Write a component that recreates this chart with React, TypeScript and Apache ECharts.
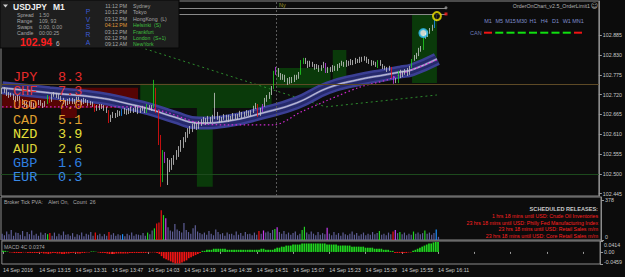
import React, { useEffect, useRef } from 'react';
import * as echarts from 'echarts';

// ---------------- data ----------------
const SYMBOL = 'USDJPY';
const PERIOD = 'M1';
const INFO_LABELS = ['Spread', 'Range', 'Swaps', 'Candle'];
const INFO_VALUES = ['1.50', '109, 93', '0.00, 0.00', '00:00:25'];
const BID_MAIN = '102.94';
const BID_LAST = '6';
const PVSRA = ['P', 'V', 'S', 'R', 'A'];
const SESSION_TIMES = ['11:12 PM', '10:12 PM', '03:12 PM', '04:12 PM', '03:12 PM', '02:12 PM', '09:12 AM'];
const SESSION_CITIES = ['Sydney', 'Tokyo', 'HongKong  (L)', 'Helsinki  (S)', 'Frankfurt', 'London  (S+1)', 'NewYork'];
const SESSION_OPEN = [false, false, false, true, true, true, true];

const CURRENCIES = ['JPY', 'CHF', 'USD', 'CAD', 'NZD', 'AUD', 'GBP', 'EUR'];
const STRENGTH = [8.3, 7.3, 7.0, 5.1, 3.9, 2.6, 1.6, 0.3];

const TIMEFRAMES = ['M1', 'M5', 'M15', 'M30', 'H1', 'H4', 'D1', 'W1', 'MN1'];
const TF_UP = [false, true, true, true, true, true, true, true, false];

const RELEASES = [
  '1 hrs 18 mins until USD: Crude Oil Inventories',
  '23 hrs 18 mins until USD: Philly Fed Manufacturing Index',
  '23 hrs 18 mins until USD: Retail Sales m/m',
  '23 hrs 18 mins until USD: Core Retail Sales m/m',
];

const TICK_LABELS = ['14 Sep 2016', '14 Sep 13:15', '14 Sep 13:31', '14 Sep 13:47', '14 Sep 14:03', '14 Sep 14:19',
  '14 Sep 14:35', '14 Sep 14:51', '14 Sep 15:07', '14 Sep 15:23', '14 Sep 15:39', '14 Sep 15:55', '14 Sep 16:11'];
const PRICE_TICKS = [102.445, 102.5, 102.555, 102.61, 102.665, 102.72, 102.775, 102.83, 102.885];
const VOL_TICKS = [0, 378];
const MACD_TICKS = [-0.0459, 0, 0.0414];
const CURRENT_PRICE = 102.941;
const TICK_COUNT = 26;
const MACD_LAST = 0.0374;

const FIRST_OPEN = 102.733;
const CLOSE = [
  102.727, 102.733, 102.722, 102.716, 102.719, 102.711, 102.705, 102.714, 102.702, 102.697,
  102.694, 102.689, 102.697, 102.691, 102.686, 102.694, 102.700, 102.694, 102.689, 102.697,
  102.714, 102.702, 102.716, 102.722, 102.716, 102.711, 102.705, 102.700, 102.694, 102.702,
  102.697, 102.705, 102.700, 102.708, 102.702, 102.697, 102.705, 102.700, 102.694, 102.697,
  102.691, 102.677, 102.689, 102.683, 102.689, 102.680, 102.675, 102.647, 102.658, 102.666,
  102.661, 102.672, 102.664, 102.677, 102.669, 102.677, 102.672, 102.680, 102.675, 102.683,
  102.672, 102.677, 102.683, 102.672, 102.689, 102.680, 102.686, 102.733, 102.672, 102.594,
  102.494, 102.552, 102.539, 102.525, 102.516, 102.533, 102.544, 102.552, 102.566, 102.580,
  102.594, 102.608, 102.616, 102.622, 102.630, 102.636, 102.627, 102.639, 102.644, 102.650,
  102.641, 102.652, 102.647, 102.658, 102.666, 102.655, 102.647, 102.652, 102.661, 102.650,
  102.658, 102.652, 102.664, 102.655, 102.661, 102.669, 102.661, 102.666, 102.672, 102.664,
  102.672, 102.683, 102.691, 102.664, 102.677, 102.689, 102.705, 102.714, 102.722, 102.739,
  102.780, 102.789, 102.775, 102.766, 102.772, 102.761, 102.755, 102.764, 102.758, 102.769,
  102.766, 102.777, 102.808, 102.816, 102.811, 102.800, 102.808, 102.802, 102.794, 102.800,
  102.789, 102.797, 102.805, 102.783, 102.791, 102.786, 102.797, 102.789, 102.800, 102.802,
  102.808, 102.800, 102.811, 102.805, 102.814, 102.808, 102.816, 102.811, 102.819, 102.816,
  102.822, 102.811, 102.814, 102.805, 102.808, 102.800, 102.814, 102.802, 102.797, 102.794,
  102.789, 102.794, 102.769, 102.755, 102.761, 102.783, 102.772, 102.780, 102.789, 102.777,
  102.797, 102.816, 102.822, 102.830, 102.844, 102.847, 102.880, 102.883, 102.891, 102.900,
  102.908, 102.927, 102.941,
];
const HIGH = [
  102.739, 102.741, 102.736, 102.727, 102.725, 102.722, 102.716, 102.719, 102.716, 102.708,
  102.702, 102.700, 102.702, 102.700, 102.697, 102.700, 102.705, 102.705, 102.697, 102.702,
  102.719, 102.716, 102.722, 102.727, 102.725, 102.722, 102.716, 102.711, 102.705, 102.708,
  102.711, 102.711, 102.708, 102.714, 102.714, 102.708, 102.711, 102.708, 102.705, 102.702,
  102.700, 102.694, 102.691, 102.694, 102.694, 102.691, 102.686, 102.677, 102.664, 102.672,
  102.669, 102.677, 102.675, 102.680, 102.683, 102.680, 102.683, 102.686, 102.683, 102.689,
  102.686, 102.683, 102.689, 102.686, 102.694, 102.691, 102.691, 102.761, 102.739, 102.677,
  102.608, 102.566, 102.561, 102.544, 102.539, 102.544, 102.552, 102.566, 102.577, 102.594,
  102.602, 102.616, 102.627, 102.633, 102.639, 102.644, 102.641, 102.647, 102.652, 102.658,
  102.655, 102.661, 102.658, 102.664, 102.725, 102.672, 102.661, 102.658, 102.666, 102.664,
  102.664, 102.661, 102.669, 102.666, 102.666, 102.675, 102.672, 102.672, 102.677, 102.675,
  102.677, 102.689, 102.697, 102.694, 102.683, 102.694, 102.711, 102.719, 102.727, 102.744,
  102.786, 102.797, 102.794, 102.780, 102.777, 102.775, 102.766, 102.769, 102.769, 102.775,
  102.775, 102.783, 102.816, 102.822, 102.822, 102.814, 102.814, 102.811, 102.805, 102.805,
  102.802, 102.802, 102.811, 102.808, 102.797, 102.797, 102.802, 102.800, 102.805, 102.808,
  102.814, 102.811, 102.816, 102.814, 102.819, 102.816, 102.822, 102.819, 102.825, 102.825,
  102.827, 102.825, 102.819, 102.816, 102.814, 102.811, 102.816, 102.816, 102.805, 102.800,
  102.797, 102.800, 102.797, 102.772, 102.766, 102.786, 102.789, 102.786, 102.791, 102.794,
  102.800, 102.819, 102.830, 102.836, 102.850, 102.855, 102.886, 102.891, 102.897, 102.905,
  102.914, 102.933, 102.944,
];
const LOW = [
  102.722, 102.725, 102.716, 102.711, 102.714, 102.705, 102.700, 102.702, 102.697, 102.691,
  102.686, 102.683, 102.686, 102.686, 102.680, 102.683, 102.691, 102.689, 102.683, 102.686,
  102.694, 102.697, 102.700, 102.714, 102.711, 102.708, 102.700, 102.694, 102.689, 102.691,
  102.694, 102.694, 102.694, 102.697, 102.700, 102.691, 102.694, 102.697, 102.689, 102.691,
  102.686, 102.672, 102.675, 102.677, 102.680, 102.675, 102.669, 102.641, 102.644, 102.655,
  102.655, 102.658, 102.661, 102.661, 102.666, 102.664, 102.666, 102.669, 102.669, 102.672,
  102.666, 102.669, 102.675, 102.669, 102.669, 102.677, 102.675, 102.683, 102.669, 102.580,
  102.464, 102.477, 102.530, 102.469, 102.505, 102.511, 102.525, 102.539, 102.547, 102.561,
  102.572, 102.588, 102.600, 102.611, 102.616, 102.625, 102.622, 102.625, 102.633, 102.639,
  102.636, 102.639, 102.641, 102.644, 102.652, 102.650, 102.641, 102.644, 102.650, 102.647,
  102.644, 102.647, 102.650, 102.652, 102.650, 102.658, 102.655, 102.658, 102.661, 102.661,
  102.661, 102.669, 102.680, 102.658, 102.661, 102.672, 102.686, 102.700, 102.708, 102.719,
  102.736, 102.775, 102.769, 102.761, 102.761, 102.755, 102.747, 102.750, 102.752, 102.755,
  102.761, 102.764, 102.775, 102.805, 102.805, 102.794, 102.797, 102.797, 102.789, 102.791,
  102.783, 102.786, 102.794, 102.780, 102.780, 102.783, 102.783, 102.786, 102.786, 102.794,
  102.800, 102.797, 102.797, 102.800, 102.802, 102.802, 102.805, 102.808, 102.808, 102.811,
  102.814, 102.808, 102.805, 102.800, 102.802, 102.797, 102.794, 102.800, 102.791, 102.789,
  102.783, 102.786, 102.766, 102.750, 102.752, 102.752, 102.766, 102.769, 102.775, 102.772,
  102.775, 102.794, 102.814, 102.819, 102.827, 102.839, 102.844, 102.875, 102.880, 102.889,
  102.897, 102.905, 102.925,
];
const VOLUME = [
  60, 45, 80, 55, 95, 40, 70, 65, 50, 85,
  35, 75, 55, 90, 45, 60, 40, 70, 50, 65,
  55, 65,
  40, 70, 35, 60, 45, 80, 50, 55,
  40, 65, 30, 55, 45, 70, 35, 60, 50, 75, 40,
  70,
  45, 60, 35, 55, 40,
  75,
  50, 65, 40, 55, 45,
  55,
  35, 60, 45, 70, 40, 55, 50, 45, 65, 40,
  70,
  55, 90,
  110,
  155, 165, 280, 235, 205,
  120, 90, 80, 150, 100, 85, 70,
  160, 95, 75, 60, 110, 140, 80, 65, 55, 70,
  50, 85, 60, 45, 100, 75, 55, 65, 40, 70,
  55, 60, 45, 80, 50, 65, 40, 75, 55, 60, 45, 70, 50,
  85,
  60,
  90,
  70, 80, 65, 95,
  105, 120,
  75, 60, 85, 55, 70, 50, 65, 80, 45, 60,
  95, 125,
  70, 55, 80, 60, 45, 75, 50, 65, 55,
  115,
  60, 45, 75, 50, 65, 40, 70, 55, 45, 60, 80, 50, 65, 40, 55, 70, 45, 60, 50, 75, 55, 65,
  85,
  50, 60, 45, 70, 55,
  80, 95,
  65, 75,
  55, 70, 45, 60, 50,
  80,
  60, 70, 55, 65,
  90,
  60, 70, 50, 65,
  100,
  30,
];
const MACD = [
  0.004, 0.004, 0.002,
  -0.002, -0.002, -0.004, -0.004, -0.004, -0.004, -0.002, -0.002, -0.004, -0.004, -0.004, -0.004, -0.004, -0.004,
  -0.004, -0.006, -0.006, -0.008, -0.006, -0.004, -0.004, -0.006, -0.006, -0.008, -0.008, -0.006, -0.006, -0.004, -0.004, -0.004, -0.006, -0.006, -0.004, -0.004, -0.002, -0.002,
  0.002, 0.002, 0.001,
  -0.002, -0.004, -0.004, -0.004, -0.006, -0.008, -0.008, -0.008, -0.006, -0.006, -0.006, -0.006, -0.006, -0.006, -0.004, -0.004, -0.004, -0.004, -0.004, -0.004, -0.004, -0.004, -0.002, -0.002, -0.002, -0.002, -0.004,
  -0.008, -0.016, -0.024, -0.028, -0.032, -0.036, -0.040, -0.044, -0.044, -0.044, -0.040, -0.036, -0.032, -0.024, -0.020, -0.016, -0.012, -0.008, -0.004,
  0.004, 0.004, 0.008, 0.008, 0.008, 0.012, 0.012, 0.012, 0.012, 0.012, 0.012, 0.008, 0.008, 0.008,
  0.008, 0.008, 0.008, 0.008, 0.008, 0.008, 0.008, 0.008, 0.008, 0.008, 0.008, 0.008, 0.012, 0.012, 0.008, 0.008, 0.008, 0.008,
  0.012, 0.016, 0.016, 0.020, 0.020, 0.024, 0.024, 0.024, 0.028, 0.028, 0.028, 0.028, 0.032, 0.032, 0.032, 0.032, 0.032, 0.032, 0.032, 0.032, 0.032,
  0.032, 0.032, 0.028, 0.028, 0.028, 0.028, 0.028, 0.024, 0.024, 0.024, 0.024, 0.024, 0.024, 0.020, 0.020, 0.020, 0.020,
  0.020, 0.020, 0.016, 0.016, 0.016, 0.016, 0.012, 0.012, 0.012, 0.012, 0.008, 0.008, 0.008, 0.004, 0.004,
  -0.004, -0.004, -0.004, -0.004, -0.004, -0.004, -0.002, -0.002,
  0.004, 0.008, 0.012, 0.016, 0.020, 0.024, 0.028, 0.032, 0.032, 0.036, 0.038, 0.0374,
];
// PVA candle / volume classification by bar index
const PVA_CLASS: Record<number, string> = {
  20: 'green', 21: 'red', 41: 'red', 47: 'red', 53: 'blue', 64: 'green', 67: 'green', 68: 'red', 69: 'red',
  70: 'red', 71: 'green', 72: 'magenta', 113: 'red', 115: 'magenta', 120: 'green', 121: 'magenta', 132: 'green',
  133: 'green', 143: 'magenta', 166: 'green', 172: 'red', 173: 'magenta', 175: 'green', 181: 'green',
  186: 'green', 191: 'blue',
};
// indicator vertices: [bar, price]
const RIBBON = [[0, 102.739], [21, 102.725], [43, 102.711], [56, 102.694], [65, 102.680], [76, 102.658],
  [87, 102.641], [100, 102.647], [115, 102.669], [130, 102.697], [144, 102.739], [157, 102.761],
  [169, 102.775], [176, 102.783], [181, 102.789], [192, 102.819]];
const MAGENTA_MA = [[0, 102.686], [60, 102.686], [72, 102.672], [87, 102.641], [100, 102.636], [120, 102.636],
  [132, 102.672], [144, 102.705], [158, 102.741], [170, 102.761], [181, 102.789], [192, 102.816]];
const SLOW_MA = [[40, 102.894], [143, 102.686], [192, 102.719]];
// zones: [fromBar, toBar, top, bottom]
const SELL_ZONES = [[0, 60, 102.739, 102.683], [26, 33, 102.686, 102.655]];
const BUY_ZONES = [[61, 119, 102.750, 102.683], [86, 93, 102.683, 102.464], [121, 145, 102.794, 102.739],
  [146, 152, 102.844, 102.739], [181, 192, 102.941, 102.752]];
const LEVEL_BROWN = 102.750;
const LEVEL_GREEN = 102.500;
const ORDER_LEVELS = [102.961, 102.944];
const ORDER_END_BAR = 196;
const NY_BAR = 121;
const YELLOW_MARK = [192, 102.938];
const CYAN_MARK = [186, 102.891];
const RED_MARK = [196, 102.944];
const GRAY_MARK = [196, 102.961];
const N_SLOTS = 264;

// ---------------- styles ----------------
const FONT = '"Liberation Sans", Arial, sans-serif';
const MONO = '"Liberation Mono", "Courier New", monospace';
const PVA_COLORS: Record<string, string> = { green: '#22d322', red: '#f01010', magenta: '#c83cf0', blue: '#1e90ff' };
const VOL_DEFAULT = '#5e5e96';
const CUR_COLORS = ['#e52a2a', '#e03535', '#e3822a', '#e0a030', '#e6e03a', '#dcd23a', '#2f7fe0', '#3a8ae6'];

function buildGraphic() {
  const G: any[] = [];
  const T = (text: string, x: number, y: number, fill: string, size: number, o: any = {}) => {
    const align = o.align || 'left';
    G.push({
      type: 'text', x, y, z: 100, silent: true,
      style: {
        text, fill, font: `${o.bold ? 'bold ' : ''}${size}px ${o.family || FONT}`,
        textAlign: align, textVerticalAlign: 'middle', align, verticalAlign: 'middle',
      },
    });
  };
  G.push({ type: 'rect', z: 99, silent: true, shape: { x: 0, y: 0, width: 179, height: 48 },
    style: { fill: '#1e1e1e', stroke: '#060606', lineWidth: 1 } });
  G.push({ type: 'polygon', z: 100, silent: true, shape: { points: [[3, 4.5], [8, 4.5], [5.5, 7.5]] }, style: { fill: '#d0d0d0' } });
  T(SYMBOL, 13, 6.5, '#f0f0f0', 8.5, { bold: true });
  T(PERIOD, 53, 6.5, '#f0f0f0', 8.5, { bold: true });
  INFO_LABELS.forEach((l, i) => {
    T(l, 17, 15 + i * 6, '#a8a8a8', 5.2);
    T(INFO_VALUES[i], 39, 15 + i * 6, '#a0a0a0', 5.2);
  });
  T(BID_MAIN, 20, 42, '#ff1e1e', 10.5, { bold: true });
  T(BID_LAST, 56, 43.5, '#c0c0c0', 6.5);
  PVSRA.forEach((c, i) => T(c, 88, 11.7 + i * 7.6, '#3b5bd6', 6.8, { align: 'center' }));
  SESSION_TIMES.forEach((t, i) => {
    T(t, 127, 6 + i * 6.4, i === 3 ? '#e09a3a' : '#a8a8a8', 5.2, { align: 'right' });
    T(SESSION_CITIES[i], 133, 6 + i * 6.4, SESSION_OPEN[i] ? '#3fbf3f' : '#a8a8a8', 5.2);
  });
  T('Ny', 279, 5, '#9a9a28', 5.5);
  T('OrderOnChart_v2.5_OrderLimit1', 590, 6, '#b4b4b4', 5.3, { align: 'right' });
  T('\u263A', 594.5, 6, '#b4b4b4', 7, { align: 'center', family: '"DejaVu Sans", sans-serif' });
  TIMEFRAMES.forEach((tf, i) => {
    const cx = 488 + i * 11.25;
    T(tf, cx, 21, '#7f8ccc', 5.5, { align: 'center' });
    G.push({ type: 'rect', z: 100, silent: true, shape: { x: cx - 4, y: 31.7, width: 8, height: 2 },
      style: { fill: TF_UP[i] ? '#10e010' : '#f01414' } });
  });
  T('CAN', 470, 32.7, '#6a7ab8', 5.5);
  CURRENCIES.forEach((c, i) => {
    T(c, 13, 77 + i * 14.4, CUR_COLORS[i], 13.5, { family: MONO });
    T(STRENGTH[i].toFixed(1), 58, 77 + i * 14.4, CUR_COLORS[i], 13.5, { family: MONO });
  });
  T(`Broker Tick PVA:    Alert On,   Count  ${TICK_COUNT}`, 4, 202, '#a8a8a8', 5.2);
  T(`MACD 4C ${MACD_LAST.toFixed(4)}`, 4, 247, '#a8a8a8', 5.2);
  T('SCHEDULED RELEASES:', 598, 209, '#c8c8c8', 5.6, { align: 'right', bold: true });
  RELEASES.forEach((r, i) => T(r, 598, 216 + i * 6.6, '#ff2020', 5.2, { align: 'right' }));
  return G;
}

function buildOption() {
  const cats = Array.from({ length: N_SLOTS }, (_, i) => String(i));
  const candles = CLOSE.map((c, i) => {
    const o = i === 0 ? FIRST_OPEN : CLOSE[i - 1];
    const item: any = { value: [o, c, LOW[i], HIGH[i]] };
    const cls = PVA_CLASS[i];
    if (cls) {
      const col = PVA_COLORS[cls];
      item.itemStyle = { color: col, color0: col, borderColor: col, borderColor0: col };
    }
    return item;
  });
  const vols = VOLUME.map((v, i) => ({ value: v, itemStyle: { color: PVA_CLASS[i] ? PVA_COLORS[PVA_CLASS[i]] : VOL_DEFAULT } }));
  const macd = MACD.map((v) => ({ value: v, itemStyle: { color: v >= 0 ? '#1fd61f' : '#f01414' } }));

  const axisText = { color: '#c8c8c8', fontSize: 5.3, fontFamily: FONT };
  const xBase = (gridIndex: number) => ({
    type: 'category', gridIndex, data: cats, boundaryGap: true,
    axisLine: { show: false }, axisTick: { show: false }, axisLabel: { show: false }, splitLine: { show: false },
  });
  const gridBase = { show: true, borderColor: '#8a8a8a', borderWidth: 1, backgroundColor: 'transparent' };

  const zones = [
    ...SELL_ZONES.map((z) => [{ xAxis: z[0], yAxis: z[2], itemStyle: { color: '#560404' } }, { xAxis: z[1], yAxis: z[3] }]),
    ...BUY_ZONES.map((z) => [{ xAxis: z[0], yAxis: z[2], itemStyle: { color: '#0a3a0a' } }, { xAxis: z[1], yAxis: z[3] }]),
  ];
  const levels: any[] = [
    { yAxis: LEVEL_BROWN, lineStyle: { color: '#5e4a26', width: 1, type: 'solid' } },
    { yAxis: LEVEL_GREEN, lineStyle: { color: '#1d4a1d', width: 1, type: 'solid' } },
    { xAxis: NY_BAR, lineStyle: { color: '#5a5a5a', width: 1, type: [2, 2] } },
    ...ORDER_LEVELS.map((p) => [{ coord: [0, p], lineStyle: { color: '#8a8a8a', width: 1, type: 'solid' } }, { coord: [ORDER_END_BAR, p] }]),
  ];
  const ribbonLine = (color: string, width: number, z: number) => ({
    type: 'line', xAxisIndex: 0, yAxisIndex: 0, data: RIBBON, smooth: 0.5, showSymbol: false, silent: true, z,
    lineStyle: { color, width },
  });

  return {
    animation: false,
    backgroundColor: '#0c0c0c',
    grid: [
      { ...gridBase, left: 1, top: 1, width: 600, height: 195 },
      { ...gridBase, left: 1, top: 197, width: 600, height: 43 },
      { ...gridBase, left: 1, top: 241, width: 600, height: 23 },
    ],
    xAxis: [
      xBase(0),
      xBase(1),
      {
        ...xBase(2),
        axisTick: { show: true, interval: 15, alignWithLabel: true, length: 2, lineStyle: { color: '#9a9a9a' } },
        axisLabel: {
          ...axisText, show: true, interval: 15, align: 'left', margin: 3, hideOverlap: false,
          formatter: (_v: string, i: number) => (i % 16 === 0 && TICK_LABELS[i / 16]) || '',
        },
      },
    ],
    yAxis: [
      {
        type: 'value', gridIndex: 0, position: 'right', min: 102.4385, max: 102.98,
        splitLine: { show: false }, axisLine: { show: true, lineStyle: { color: '#8c8c8c' } },
        axisTick: { show: true, customValues: PRICE_TICKS, length: 3, lineStyle: { color: '#9a9a9a' } },
        axisLabel: { ...axisText, customValues: PRICE_TICKS, margin: 4, formatter: (v: number) => v.toFixed(3) },
      },
      {
        type: 'value', gridIndex: 1, position: 'right', min: 0, max: 406,
        splitLine: { show: false }, axisLine: { show: true, lineStyle: { color: '#8c8c8c' } },
        axisTick: { show: true, customValues: VOL_TICKS, length: 3, lineStyle: { color: '#9a9a9a' } },
        axisLabel: {
          ...axisText, customValues: VOL_TICKS, margin: 4,
          formatter: (v: number) => (v === 0 ? '{b|0}' : `${v}`),
          rich: { b: { ...axisText, padding: [0, 0, 6, 0] } },
        },
      },
      {
        type: 'value', gridIndex: 2, position: 'right', min: MACD_TICKS[0], max: MACD_TICKS[2],
        splitLine: { show: false }, axisLine: { show: true, lineStyle: { color: '#8c8c8c' } },
        axisTick: { show: true, customValues: MACD_TICKS, length: 3, lineStyle: { color: '#9a9a9a' } },
        axisLabel: {
          ...axisText, customValues: MACD_TICKS, margin: 4,
          formatter: (v: number) => (v > 0 ? `{t|${v.toFixed(4)}}` : v < 0 ? `{b|${v.toFixed(4)}}` : '0.00'),
          rich: { t: { ...axisText, padding: [7, 0, 0, 0] }, b: { ...axisText, padding: [0, 0, 4, 0] } },
        },
      },
    ],
    series: [
      { type: 'line', xAxisIndex: 0, yAxisIndex: 0, data: SLOW_MA, showSymbol: false, silent: true, z: 2,
        lineStyle: { color: '#2e8b2e', width: 1, type: [2, 3] } },
      ribbonLine('#3b3f94', 13, 3),
      ribbonLine('#25296a', 8, 3),
      ribbonLine('#7c7eb8', 2.2, 3),
      ribbonLine('#d0d0e0', 0.8, 3),
      { type: 'line', xAxisIndex: 0, yAxisIndex: 0, data: MAGENTA_MA, smooth: 0.3, showSymbol: false, silent: true, z: 4,
        lineStyle: { color: '#d22ad2', width: 1.2, type: [1.5, 2.5] } },
      {
        type: 'candlestick', xAxisIndex: 0, yAxisIndex: 0, data: candles, barWidth: 1.2, z: 5, silent: true,
        itemStyle: { color: '#ececec', color0: '#808080', borderColor: '#c8c8c8', borderColor0: '#c8c8c8', borderWidth: 0.8 },
        markArea: { silent: true, data: zones },
        markLine: { silent: true, symbol: ['none', 'none'], label: { show: false }, data: levels },
      },
      {
        type: 'line', xAxisIndex: 0, yAxisIndex: 0, data: [], silent: true, z: 6,
        markLine: {
          silent: true, symbol: ['none', 'none'], lineStyle: { opacity: 0 },
          label: {
            show: true, position: 'end', distance: 3, formatter: () => CURRENT_PRICE.toFixed(3),
            backgroundColor: '#dcdcdc', color: '#000', fontSize: 5.3, fontFamily: FONT, padding: [1, 2, 0, 2],
          },
          data: [{ yAxis: CURRENT_PRICE }],
        },
      },
      { type: 'scatter', xAxisIndex: 0, yAxisIndex: 0, data: [YELLOW_MARK], symbol: 'circle', symbolSize: 8, z: 8, silent: true,
        itemStyle: { color: '#101010', borderColor: '#f2e500', borderWidth: 2 } },
      { type: 'scatter', xAxisIndex: 0, yAxisIndex: 0, data: [CYAN_MARK], symbol: 'circle', symbolSize: 8, z: 8, silent: true,
        itemStyle: { color: '#ffffff', borderColor: '#2ab8e8', borderWidth: 2 } },
      { type: 'scatter', xAxisIndex: 0, yAxisIndex: 0, data: [RED_MARK], symbol: 'rect', symbolSize: 3, z: 8, silent: true,
        itemStyle: { color: '#ff2020' } },
      { type: 'scatter', xAxisIndex: 0, yAxisIndex: 0, data: [GRAY_MARK], symbol: 'circle', symbolSize: 3, z: 8, silent: true,
        itemStyle: { color: '#9a9a9a' } },
      { type: 'bar', xAxisIndex: 1, yAxisIndex: 1, data: vols, barWidth: 1.2, silent: true },
      { type: 'bar', xAxisIndex: 2, yAxisIndex: 2, data: macd, barWidth: 1.7, silent: true },
    ],
    graphic: { elements: buildGraphic() },
  };
}

export default function App() {
  const ref = useRef<HTMLDivElement>(null);
  useEffect(() => {
    if (!ref.current) return;
    const chart = echarts.init(ref.current, undefined, { renderer: 'svg' });
    chart.setOption(buildOption() as any);
    return () => chart.dispose();
  }, []);
  return (
    <div
      ref={ref}
      style={{ position: 'fixed', left: 0, top: 0, width: 625, height: 277, background: '#0c0c0c' }}
    />
  );
}
